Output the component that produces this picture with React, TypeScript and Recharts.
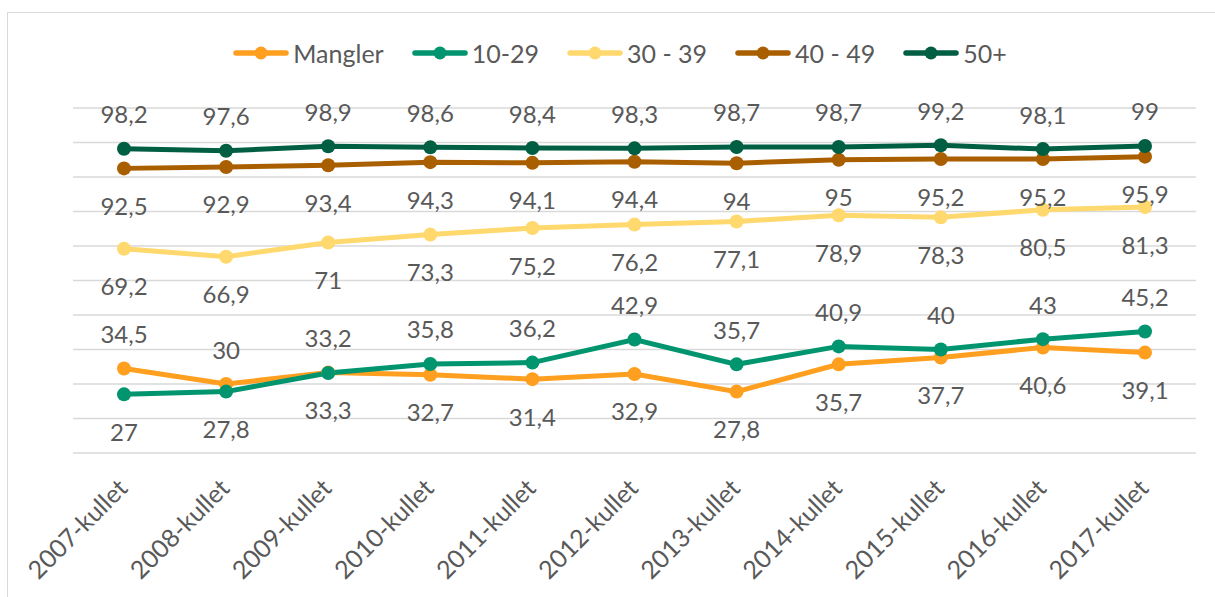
import React from 'react';
import { LineChart, Line, XAxis, YAxis, CartesianGrid, LabelList } from 'recharts';

const categories = ['2007-kullet', '2008-kullet', '2009-kullet', '2010-kullet', '2011-kullet', '2012-kullet', '2013-kullet', '2014-kullet', '2015-kullet', '2016-kullet', '2017-kullet'];
const mangler = [34.5, 30, 33.3, 32.7, 31.4, 32.9, 27.8, 35.7, 37.7, 40.6, 39.1];
const age10to29 = [27, 27.8, 33.2, 35.8, 36.2, 42.9, 35.7, 40.9, 40, 43, 45.2];
const age30to39 = [69.2, 66.9, 71, 73.3, 75.2, 76.2, 77.1, 78.9, 78.3, 80.5, 81.3];
const age40to49 = [92.5, 92.9, 93.4, 94.3, 94.1, 94.4, 94, 95, 95.2, 95.2, 95.9];
const age50plus = [98.2, 97.6, 98.9, 98.6, 98.4, 98.3, 98.7, 98.7, 99.2, 98.1, 99];
const yTicks = [10, 20, 30, 40, 50, 60, 70, 80, 90, 100, 110];

const seriesNames = ['Mangler', '10-29', '30 - 39', '40 - 49', '50+'];
const seriesKeys = ['mangler', 'a1029', 'a3039', 'a4049', 'a50'];
const seriesColors = ['#FF9F1F', '#00956E', '#FFD86E', '#A95F00', '#005E43'];
// label placement: true = above the point
const labelAbove = [
  [true, true, false, false, false, false, false, false, false, false, false],
  [false, false, true, true, true, true, true, true, true, true, true],
  Array(11).fill(false),
  Array(11).fill(false),
  Array(11).fill(true),
];

const data = categories.map((c, i) => ({
  category: c,
  mangler: mangler[i],
  a1029: age10to29[i],
  a3039: age30to39[i],
  a4049: age40to49[i],
  a50: age50plus[i],
}));

const FONT = 'Lato, "Open Sans", sans-serif';
const TEXT = '#595959';
const fmt = (v: number) => String(v).replace('.', ',');

const makeLabel = (above: boolean[]) => (props: any) => {
  const { x, y, value, index } = props;
  const up = above[index];
  const cy = up ? y - 34 : y + 38;
  return (
    <text x={x} y={cy + 8.5} textAnchor="middle" fill={TEXT} fontSize={24} fontFamily={FONT}>
      {fmt(value)}
    </text>
  );
};

const Tick = (props: any) => {
  const { x, y, payload } = props;
  const ax = x + 5;
  const ay = y + 37;
  return (
    <text x={ax} y={ay} transform={`rotate(-45, ${ax}, ${ay})`} textAnchor="end" fill={TEXT} fontSize={25} fontFamily={FONT}>
      {payload.value}
    </text>
  );
};

const Legend = () => (
  <div style={{ position: 'absolute', left: 0, top: 38, width: 1240, height: 30, display: 'flex', justifyContent: 'center', alignItems: 'center', gap: 28, fontFamily: FONT, fontSize: 25, color: TEXT }}>
    {seriesNames.map((n, i) => (
      <div key={n} style={{ display: 'flex', alignItems: 'center' }}>
        <svg width={56} height={16} style={{ marginRight: 4 }}>
          <line x1={3} y1={8} x2={53} y2={8} stroke={seriesColors[i]} strokeWidth={5.5} strokeLinecap="round" />
          <circle cx={28} cy={8} r={6.5} fill={seriesColors[i]} />
        </svg>
        <span>{n}</span>
      </div>
    ))}
  </div>
);

export default function App() {
  return (
    <div style={{ position: 'absolute', left: 0, top: 0, width: 1215, height: 597, background: '#fff', overflow: 'hidden' }}>
      <div style={{ position: 'absolute', left: 7, top: 12, width: 1220, height: 600, border: '1.5px solid #D9D9D9', boxSizing: 'border-box' }} />
      <Legend />
      <div style={{ position: 'absolute', left: 0, top: 0 }}>
        <LineChart width={1215} height={597} data={data} margin={{ top: 108, right: 19, left: 73, bottom: 0 }}>
          <CartesianGrid horizontal vertical={false} stroke="#D9D9D9" strokeWidth={1.5} />
          <XAxis dataKey="category" height={144} padding={{ left: 51, right: 51 }} axisLine={false} tickLine={false} tickSize={0} tickMargin={0} interval={0} tick={<Tick />} />
          <YAxis hide width={0} domain={[10, 110]} ticks={yTicks} type="number" />
          {seriesKeys.map((k, i) => (
            <Line
              key={k}
              dataKey={k}
              name={seriesNames[i]}
              stroke={seriesColors[i]}
              strokeWidth={5}
              dot={{ r: 7, fill: seriesColors[i], stroke: seriesColors[i], strokeWidth: 0 }}
              activeDot={false}
              isAnimationActive={false}
            >
              <LabelList dataKey={k} content={makeLabel(labelAbove[i])} />
            </Line>
          ))}
        </LineChart>
      </div>
    </div>
  );
}
